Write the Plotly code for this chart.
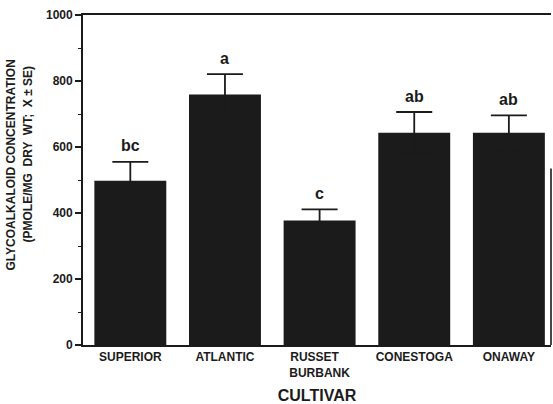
import plotly.graph_objects as go

# Glycoalkaloid concentration by potato cultivar (mean ± SE)
cultivars = ["SUPERIOR", "ATLANTIC", "RUSSET\u00a0\u00a0\u00a0<br>BURBANK", "CONESTOGA", "ONAWAY"]
means = [498, 759, 377, 643, 643]
se = [57, 62, 34, 63, 53]
groups = ["bc", "a", "c", "ab", "ab"]

y_ticks = [0, 200, 400, 600, 800, 1000]

INK = "#1b1b1b"
FONT = "Liberation Sans, Arial, Helvetica, sans-serif"
BOLD = dict(family=FONT, color=INK, weight="bold")

fig = go.Figure()
fig.add_trace(go.Bar(
    x=cultivars,
    y=means,
    width=0.76,
    marker=dict(color=INK, line=dict(width=0)),
    error_y=dict(type="data", array=se, color=INK, thickness=1.8, width=18),
))

# significance letters above each error bar
for c, m, s, g in zip(cultivars, means, se, groups):
    fig.add_annotation(x=c, y=m + s, text=g, showarrow=False,
                       yanchor="middle", yshift=16,
                       font=dict(**BOLD, size=16))

# right-hand frame segment
fig.add_shape(type="line", xref="x domain", yref="y", x0=1, x1=1, y0=0, y1=535,
              line=dict(color=INK, width=1.6))

# y-axis title, two rotated lines
fig.add_annotation(xref="paper", yref="paper", x=(10.5 - 83) / 468, y=(345 - 165) / 330,
                   text="GLYCOALKALOID CONCENTRATION", textangle=-90,
                   showarrow=False, xanchor="center", yanchor="middle",
                   font=dict(**BOLD, size=12))
fig.add_annotation(xref="paper", yref="paper", x=(27.5 - 83) / 468, y=(345 - 154) / 330,
                   text="(PMOLE/MG  DRY  WT;  X ± SE)", textangle=-90,
                   showarrow=False, xanchor="center", yanchor="middle",
                   font=dict(**BOLD, size=12))

fig.update_layout(
    width=553, height=404,
    margin=dict(l=83, r=2, t=15, b=59),
    paper_bgcolor="white", plot_bgcolor="white",
    showlegend=False,
    font=dict(family=FONT, color=INK),
    xaxis=dict(
        range=[-0.5, 4.445],
        showline=True, linecolor=INK, linewidth=1.8, mirror=True,
        ticks="", showgrid=False, zeroline=False,
        tickfont=dict(**BOLD, size=12),
        title=dict(text="CULTIVAR", font=dict(**BOLD, size=16), standoff=12),
    ),
    yaxis=dict(
        range=[0, 1000],
        tickvals=y_ticks,
        showline=True, linecolor=INK, linewidth=1.8,
        ticks="outside", ticklen=6, tickwidth=1.6, tickcolor=INK,
        minor=dict(dtick=100, ticks="outside", ticklen=3, tickwidth=1.4, tickcolor=INK),
        showgrid=False, zeroline=False,
        tickfont=dict(**BOLD, size=12),
    ),
)

fig.write_html("out.html")
